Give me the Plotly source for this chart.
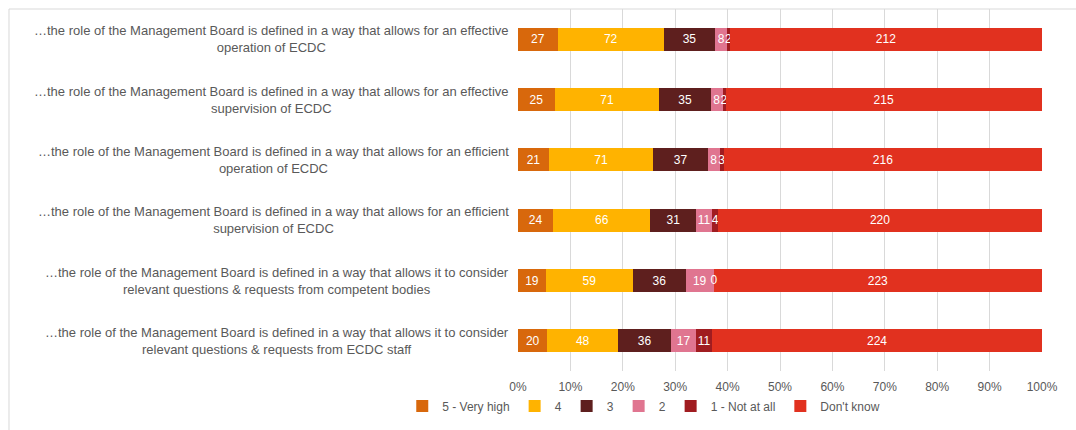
import plotly.graph_objects as go

categories = [
    "…the role of the Management Board is defined in a way that allows for an effective<br>operation of ECDC",
    "…the role of the Management Board is defined in a way that allows for an effective<br>supervision of ECDC",
    "…the role of the Management Board is defined in a way that allows for an efficient<br>operation of ECDC",
    "…the role of the Management Board is defined in a way that allows for an efficient<br>supervision of ECDC",
    "…the role of the Management Board is defined in a way that allows it to consider<br>relevant questions & requests from competent bodies",
    "…the role of the Management Board is defined in a way that allows it to consider<br>relevant questions & requests from ECDC staff",
]

series_names = ["5 - Very high", "4", "3", "2", "1 - Not at all", "Don't know"]
very_high = [27, 25, 21, 24, 19, 20]
four = [72, 71, 71, 66, 59, 48]
three = [35, 35, 37, 31, 36, 36]
two = [8, 8, 8, 11, 19, 17]
not_at_all = [2, 2, 3, 4, 0, 11]
dont_know = [212, 215, 216, 220, 223, 224]
series_values = [very_high, four, three, two, not_at_all, dont_know]
colors = ["#D8680C", "#FFB300", "#5E1F1E", "#E07590", "#A01C20", "#E1311F"]

x_tickvals = [0, 10, 20, 30, 40, 50, 60, 70, 80, 90, 100]
x_ticktext = [f"{v}%" for v in x_tickvals]

totals = [sum(s[i] for s in series_values) for i in range(len(categories))]

fig = go.Figure()
for name, vals, col in zip(series_names, series_values, colors):
    fig.add_trace(go.Bar(
        y=categories, x=vals, name=name, orientation="h",
        marker=dict(color=col, line=dict(width=0)),
        text=[str(v) for v in vals], texttemplate="%{text}",
        textposition="inside", insidetextanchor="middle",
        textfont=dict(color="white", size=12, family="Liberation Sans"),
        constraintext="none",
    ))

# labels for zero-valued segments (bars of zero width draw no text)
for k, vals in enumerate(series_values):
    zx, zy, zt = [], [], []
    for i, v in enumerate(vals):
        if v == 0:
            cum = sum(series_values[j][i] for j in range(k))
            zx.append(cum / totals[i] * 100)
            zy.append(categories[i])
            zt.append(str(v))
    if zx:
        fig.add_trace(go.Scatter(
            x=zx, y=zy, text=zt, mode="text", showlegend=False, hoverinfo="skip",
            textposition="middle center",
            textfont=dict(color="white", size=12, family="Liberation Sans"),
        ))

for c in categories:
    fig.add_annotation(
        text=c, x=-0.0135, y=c, xref="paper", yref="y",
        xanchor="right", yanchor="middle", align="center", showarrow=False,
        font=dict(size=13, color="#595959", family="Liberation Sans"),
    )

# frame
fig.add_shape(type="line", xref="paper", yref="paper", x0=-0.9714, x1=1.2, y0=1.0, y1=1.0,
              line=dict(color="#D9D9D9", width=1))
fig.add_shape(type="line", xref="paper", yref="paper", x0=-0.9714, x1=-0.9714, y0=1.0, y1=-0.3,
              line=dict(color="#D9D9D9", width=1))

fig.update_layout(
    width=1076, height=430,
    margin=dict(l=518, r=34, t=9, b=59, autoexpand=False),
    barmode="stack", barnorm="percent", bargap=0.62,
    plot_bgcolor="white", paper_bgcolor="white",
    font=dict(family="Liberation Sans", color="#595959", size=11),
    uniformtext=dict(minsize=12, mode="show"),
    xaxis=dict(range=[0, 100], tickvals=x_tickvals, ticktext=x_ticktext,
               showgrid=True, gridcolor="#D9D9D9", gridwidth=1, zeroline=False,
               ticks="outside", ticklen=5, tickcolor="rgba(0,0,0,0)",
               tickfont=dict(size=12, color="#595959"), fixedrange=True),
    yaxis=dict(categoryorder="array", categoryarray=categories, autorange="reversed",
               showticklabels=False, showgrid=False, zeroline=False),
    legend=dict(orientation="h", x=0.24, xanchor="center", y=-0.097, yanchor="middle",
                font=dict(size=12, color="#595959"), itemwidth=30, tracegroupgap=0,
                traceorder="normal"),
    showlegend=True,
)

fig.write_html("out.html", config={"displayModeBar": False},
               post_script="document.body.style.margin='0';")
